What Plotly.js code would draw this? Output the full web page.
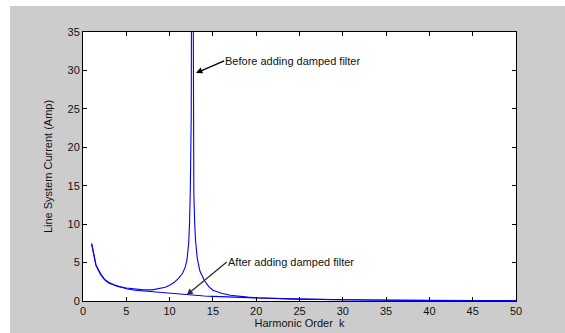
<!DOCTYPE html>
<html>
<head>
<meta charset="utf-8">
<script src="https://cdn.plot.ly/plotly-3.0.1.min.js"></script>
<style>html,body{margin:0;padding:0;background:#fff;}#chart{width:565px;height:333px;}</style>
</head>
<body>
<div id="chart"></div>
<script>
// Harmonic order k and line current before adding the damped filter
var kBefore = [1, 1.2, 1.5, 2, 2.5, 3, 3.5, 4, 5, 6, 7, 8, 8.5, 9, 9.5, 10, 10.5, 11, 11.5, 11.8, 12, 12.2, 12.3, 12.4, 12.5, 12.6, 12.7, 12.8, 12.9, 13, 13.2, 13.5, 14, 14.5, 15, 16, 17, 18, 19, 20, 22, 25, 30, 35, 40, 45, 50];
var iBefore = [7.5, 6.2, 4.7, 3.6, 2.8, 2.4, 2.1, 1.9, 1.7, 1.55, 1.45, 1.45, 1.55, 1.65, 1.8, 2.05, 2.4, 2.9, 3.6, 4.4, 5.3, 7.5, 10, 15, 24.3, 80, 22.7, 14, 10, 7.8, 5.5, 3.9, 2.7, 1.9, 1.4, 1.0, 0.75, 0.6, 0.5, 0.42, 0.33, 0.25, 0.16, 0.1, 0.07, 0.05, 0.04];
// Line current after adding the damped filter
var kAfter = [1, 1.2, 1.5, 2, 2.5, 3, 4, 5, 6, 7, 8, 9, 10, 11, 12, 13, 14, 15, 17, 20, 25, 30, 35, 40, 45, 50];
var iAfter = [7.4, 6.1, 4.6, 3.5, 2.75, 2.3, 1.9, 1.6, 1.4, 1.3, 1.2, 1.1, 1.0, 0.9, 0.8, 0.72, 0.65, 0.6, 0.5, 0.4, 0.25, 0.15, 0.1, 0.07, 0.05, 0.04];
var xTicks = [0, 5, 10, 15, 20, 25, 30, 35, 40, 45, 50];
var yTicks = [0, 5, 10, 15, 20, 25, 30, 35];

var labelBefore = 'Before adding damped filter';
var labelAfter = 'After adding damped filter';

var font = 'Arial, "Liberation Sans", sans-serif';
var traces = [
  {x: kBefore, y: iBefore, mode: 'lines', line: {color: '#0000ff', width: 1.1}, hoverinfo: 'skip'},
  {x: kAfter, y: iAfter, mode: 'lines', line: {color: '#0000ff', width: 1.1}, hoverinfo: 'skip'}
];
var axisCommon = {
  showline: true, linecolor: '#000', linewidth: 1, mirror: 'ticks',
  ticks: 'inside', ticklen: 4, tickcolor: '#000', tickwidth: 1,
  showgrid: false, zeroline: false, fixedrange: true,
  tickfont: {family: font, size: 11, color: '#111'}
};
var layout = {
  width: 565, height: 333,
  margin: {l: 83, r: 49, t: 32, b: 32, pad: 0},
  paper_bgcolor: '#cccccc', plot_bgcolor: '#ffffff',
  showlegend: false,
  font: {family: font, size: 11, color: '#111'},
  xaxis: Object.assign({}, axisCommon, {
    range: [0, 50], tickmode: 'array', tickvals: xTicks, ticktext: xTicks.map(String),
    title: {text: 'Harmonic Order  k', font: {family: font, size: 11, color: '#111'}, standoff: 2}
  }),
  yaxis: Object.assign({}, axisCommon, {
    range: [0, 35], tickmode: 'array', tickvals: yTicks, ticktext: yTicks.map(String),
    title: {text: 'Line System Current (Amp)', font: {family: font, size: 11, color: '#111'}, standoff: 12}
  }),
  shapes: [
    {type: 'rect', xref: 'paper', yref: 'paper', x0: -0.2, x1: (10 - 83) / 433, y0: -0.2, y1: 1.2, fillcolor: '#ffffff', line: {width: 0}, layer: 'below'},
    {type: 'rect', xref: 'paper', yref: 'paper', x0: -0.2, x1: 1.2, y0: (301 - 6) / 269, y1: 1.2, fillcolor: '#ffffff', line: {width: 0}, layer: 'below'}
  ],
  annotations: [
    {x: 13.05, y: 29.67, ax: 16.3, ay: 31.25, axref: 'x', ayref: 'y', xref: 'x', yref: 'y',
     text: labelBefore, showarrow: true, xanchor: 'left', yanchor: 'middle', borderpad: 0,
     arrowhead: 2, arrowsize: 0.9, arrowwidth: 1.4, arrowcolor: '#000',
     font: {family: font, size: 11, color: '#111'}},
    {x: 11.97, y: 0.78, ax: 16.6, ay: 5.07, axref: 'x', ayref: 'y', xref: 'x', yref: 'y',
     text: labelAfter, showarrow: true, xanchor: 'left', yanchor: 'middle', borderpad: 0,
     arrowhead: 2, arrowsize: 0.9, arrowwidth: 1.4, arrowcolor: '#333',
     font: {family: font, size: 11, color: '#111'}}
  ]
};
Plotly.newPlot('chart', traces, layout, {staticPlot: true, displayModeBar: false});
</script>
</body>
</html>
